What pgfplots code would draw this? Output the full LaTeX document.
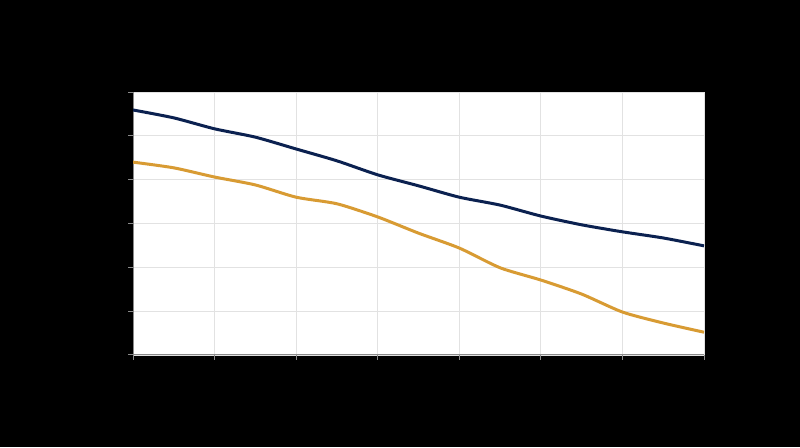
\documentclass[border=0pt]{standalone}
\usepackage{pgfplots}
\pgfplotsset{compat=1.18}
\definecolor{navyline}{HTML}{0B2150}
\definecolor{goldline}{HTML}{D89B33}
\definecolor{gridgrey}{HTML}{E2E2E2}
\definecolor{axisgrey}{HTML}{8A8A8A}
\begin{document}
\begin{tikzpicture}[x=1pt,y=1pt]
\fill[black] (0,0) rectangle (800,447);
\begin{axis}[
    at={(133pt,92pt)}, anchor=south west,
    scale only axis,
    width=571pt, height=263pt,
    xmin=0, xmax=7, ymin=0, ymax=6,
    xtick={0,...,7}, ytick={0,...,6},
    xticklabel={}, yticklabel={},
    axis x line*=bottom, axis y line*=left,
    axis line style={axisgrey, line width=1pt},
    tick style={axisgrey, line width=1pt},
    tick align=outside, major tick length=5pt,
    grid=major, grid style={gridgrey, line width=0.8pt},
    axis background/.style={fill=white},
]
\addplot[navyline, line width=3pt, smooth, tension=0.4] coordinates {
(0,5.59) (0.5,5.41) (1,5.16) (1.5,4.97) (2,4.70) (2.5,4.43) (3,4.11) (3.5,3.86)
(4,3.60) (4.5,3.42) (5,3.17) (5.5,2.97) (6,2.81) (6.5,2.67) (7,2.49)};
\addplot[goldline, line width=3pt, smooth, tension=0.4] coordinates {
(0,4.40) (0.5,4.27) (1,4.06) (1.5,3.88) (2,3.60) (2.5,3.45) (3,3.15) (3.5,2.78)
(4,2.44) (4.5,1.99) (5,1.71) (5.5,1.39) (6,0.98) (6.5,0.73) (7,0.52)};
\end{axis}
\end{tikzpicture}
\end{document}
